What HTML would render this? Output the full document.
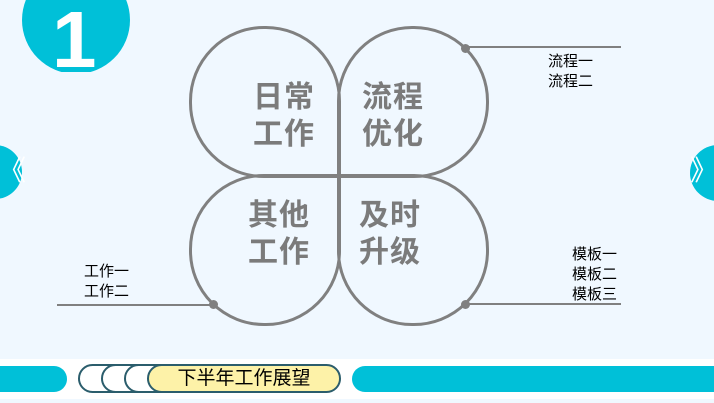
<!DOCTYPE html>
<html><head><meta charset="utf-8"><style>
body{margin:0;width:714px;height:403px;overflow:hidden;background:#f0f8ff;position:relative;font-family:"Liberation Sans","Noto Sans CJK SC",sans-serif}
.a{position:absolute}
.t{position:absolute;font-size:15px;line-height:20px;color:#000}
.p{position:absolute;width:146px;height:146px;border:3px solid #808080;box-sizing:content-box}
.b{position:absolute;font-size:30px;font-weight:bold;color:#7b7b7b;line-height:37px;letter-spacing:1px}
.o{position:absolute;top:364px;width:70px;height:29px;border:2px solid #2b5d6c;border-radius:15px;background:#fff;box-sizing:border-box}
</style></head><body>
<div class="a" style="left:0;top:0;width:160px;height:72px;overflow:hidden">
<div class="a" style="left:22px;top:-34px;width:108px;height:108px;border-radius:50%;background:#00c0d8"></div>
<div class="a" style="left:52px;top:0px;color:#fff;font-size:80px;font-weight:bold;line-height:80px;font-family:'Liberation Sans',sans-serif">1</div>
</div>
<div class="a" style="left:-32px;top:145px;width:54px;height:54px;border-radius:50%;background:#00c0d8"></div>
<div class="a" style="left:-2px;top:154px;color:#fff;font-size:28px;line-height:34px">《</div>
<div class="a" style="left:690px;top:145px;width:56px;height:56px;border-radius:50%;background:#00c0d8"></div>
<div class="a" style="left:690px;top:154px;color:#fff;font-size:28px;line-height:34px">》</div>

<div class="p" style="left:189px;top:26px;border-radius:75px 75px 0 75px"></div>
<div class="p" style="left:337px;top:26px;border-radius:75px 75px 75px 0"></div>
<div class="p" style="left:189px;top:174px;border-radius:75px 0 75px 75px"></div>
<div class="p" style="left:337px;top:174px;border-radius:0 75px 75px 75px"></div>

<div class="b" style="left:253px;top:79px">日常<br>工作</div>
<div class="b" style="left:362px;top:79px">流程<br>优化</div>
<div class="b" style="left:248px;top:197px">其他<br>工作</div>
<div class="b" style="left:359px;top:197px">及时<br>升级</div>

<div class="a" style="left:465px;top:46px;width:156px;height:2px;background:#808080"></div>
<div class="a" style="left:461px;top:44px;width:9px;height:9px;border-radius:50%;background:#808080"></div>
<div class="a" style="left:57px;top:304px;width:156px;height:2px;background:#808080"></div>
<div class="a" style="left:209px;top:300px;width:9px;height:9px;border-radius:50%;background:#808080"></div>
<div class="a" style="left:465px;top:303px;width:156px;height:2px;background:#808080"></div>
<div class="a" style="left:461px;top:300px;width:9px;height:9px;border-radius:50%;background:#808080"></div>

<div class="t" style="left:548px;top:52px">流程一<br>流程二</div>
<div class="t" style="left:84px;top:262px">工作一<br>工作二</div>
<div class="t" style="left:572px;top:245px">模板一<br>模板二<br>模板三</div>

<div class="a" style="left:0;top:359px;width:714px;height:40px;background:#fff"></div>
<div class="a" style="left:-20px;top:366px;width:87px;height:26px;border-radius:13px;background:#00c0d8"></div>
<div class="a" style="left:352px;top:366px;width:400px;height:26px;border-radius:13px;background:#00c0d8"></div>
<div class="o" style="left:78px"></div>
<div class="o" style="left:101px"></div>
<div class="o" style="left:124px"></div>
<div class="a" style="left:147px;top:364px;width:194px;height:29px;border:2px solid #2b5d6c;border-radius:15px;background:#fdf2a8;box-sizing:border-box;text-align:center;font-size:19px;line-height:25px;color:#000">下半年工作展望</div>
</body></html>
